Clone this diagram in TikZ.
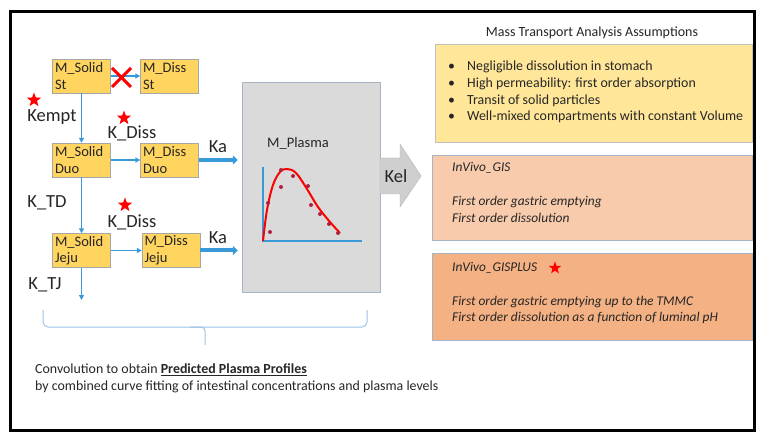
\documentclass[tikz,border=0pt]{standalone}
\usepackage{fontspec}
\setmainfont{Carlito}
\usetikzlibrary{shapes.geometric,arrows.meta}
\definecolor{boxyel}{HTML}{FFD45F}
\definecolor{boxline}{HTML}{A6A6A6}
\definecolor{flowblue}{HTML}{3A9AD9}
\definecolor{assumyel}{HTML}{FFE699}
\definecolor{peachA}{HTML}{F8CBAD}
\definecolor{peachB}{HTML}{F4B183}
\definecolor{panelline}{HTML}{A7B4C6}
\definecolor{plasmagray}{HTML}{DADADA}
\definecolor{kelgray}{HTML}{CFCFCF}
\definecolor{bracecol}{HTML}{9DC3E6}
\definecolor{dotred}{HTML}{B02040}
\definecolor{txt}{HTML}{262626}
\begin{document}
\begin{tikzpicture}[x=1pt,y=-1pt,
  comp/.style={draw=boxline, fill=boxyel, minimum width=58pt, minimum height=34pt,
    text width=53pt, inner xsep=2.5pt, inner ysep=0.5pt, align=left, text=txt,
    font=\fontsize{14.5}{16.5}\selectfont},
  flow/.style={draw=flowblue, line width=1.2pt, -{Triangle[length=5pt,width=5pt]}},
  kaflow/.style={draw=flowblue, line width=4pt, -{Triangle[length=5pt,width=9pt]}},
  ratelbl/.style={font=\fontsize{18.5}{21}\selectfont, text=txt, inner sep=0pt},
  redstar/.style={star, star points=5, star point ratio=2.4, fill=red, draw=none,
    minimum size=15pt, inner sep=0pt},
  bigstar/.style={redstar, minimum size=13pt},
  bodytext/.style={font=\fontsize{13.9}{16}\selectfont, text=txt, inner sep=0pt, anchor=west},
  itext/.style={font=\fontsize{13.4}{15}\selectfont\itshape, text=txt, inner sep=0pt, anchor=west},
  datadot/.style={circle, fill=dotred, inner sep=0pt, minimum size=4pt}
]
\useasboundingbox (0,0) rectangle (764,441);
\fill[white] (0,0) rectangle (764,441);
% outer frame
\draw[line width=3pt, black] (10.5,11.5) rectangle (754,430);

% compartments
\node[comp] (sst)   at (81.5,76)    {M\_Solid\\St};
\node[comp] (dst)   at (169.5,76)   {M\_Diss\\St};
\node[comp] (sduo)  at (81.5,160)   {M\_Solid\\Duo};
\node[comp] (dduo)  at (169.5,160)  {M\_Diss\\Duo};
\node[comp] (sjeju) at (81.5,250.5) {M\_Solid\\Jeju};
\node[comp] (djeju) at (171,250.5)  {M\_Diss\\Jeju};

% plasma panel
\node[draw=panelline, fill=plasmagray, minimum width=138pt, minimum height=210pt, inner sep=0pt]
  (plasma) at (311,187) {};
\node[font=\fontsize{14.5}{16}\selectfont, text=txt, inner sep=0pt] (mplasma) at (298,143) {M\_Plasma};

% flows
\draw[flow] (sst.east) -- (dst.west);
\draw[flow] (sduo.east) -- (dduo.west);
\draw[flow] (sjeju.east) -- (djeju.west |- sjeju.east);
\draw[flow] (sst.south) -- (sduo.north);
\draw[flow] (sduo.south) -- (sjeju.north);
\coordinate (jejuout) at (81.5,300);
\draw[flow] (sjeju.south) -- (jejuout);
\draw[kaflow, shorten >=4pt] (dduo.east) -- (plasma.west |- dduo.east);
\draw[kaflow, shorten >=4pt] (djeju.east) -- (plasma.west |- djeju.east);

% red cross over blocked dissolution in stomach
\coordinate (xa) at (112,68);
\coordinate (xb) at (131,87);
\coordinate (xc) at (112,87);
\coordinate (xd) at (131,68);
\draw[red, line width=3pt] (xa) -- (xb) (xc) -- (xd);

% rate labels
\node[ratelbl] (kempt) at (52,117) {Kempt};
\node[ratelbl] (kdiss1) at (132,133) {K\_Diss};
\node[ratelbl] (ktd) at (47,203) {K\_TD};
\node[ratelbl] (kdiss2) at (132,222) {K\_Diss};
\node[ratelbl] (ktj) at (45,285) {K\_TJ};
\node[ratelbl] (ka1) at (218,147) {Ka};
\node[ratelbl] (ka2) at (218,238) {Ka};

% stars
\node[redstar] (star1) at (34,100) {};
\node[redstar] (star2) at (124,118) {};
\node[redstar] (star3) at (125,205) {};

% plot inside plasma panel
\coordinate (ax0) at (263,241);
\coordinate (axy) at (263,167);
\coordinate (axx) at (362,241);
\draw[flowblue, line width=1.3pt] (axy) -- (ax0) -- (axx);
\draw[red, line width=2pt] plot[smooth, tension=0.6] coordinates
  {(263,241) (267,210) (273,185) (280,172) (287,169) (296,173) (307,189) (318,207) (330,222) (340,233)};
\foreach \i/\p in {1/{(270,232)},2/{(268,203)},3/{(281,187)},4/{(281,170)},5/{(293,176)},
  6/{(308,186)},7/{(311,205)},8/{(320,214)},9/{(329,224)},10/{(338,233)}}
  \node[datadot] (dot\i) at \p {};

% Kel arrow
\fill[kelgray, draw=panelline]
  (380,158) -- (400,158) -- (400,144) -- (421,176) -- (400,207) -- (400,194) -- (380,194) -- cycle;
\node[ratelbl] (kel) at (396,176) {Kel};

% brace
\coordinate (brL) at (43,310);
\coordinate (brR) at (367,310);
\coordinate (brTip) at (205,345);
\draw[bracecol, line width=1pt, rounded corners=5pt]
  (brL) -- (43,327) -- (367,327) -- (brR);
\draw[bracecol, line width=1pt, rounded corners=4pt] (190,327) -- (205,327) -- (brTip);

% bottom text
\node[bodytext] (conv1) at (35,370) {Convolution to obtain \textbf{\underline{Predicted Plasma Profiles}}};
\node[bodytext] (conv2) at (35,387) {by combined curve fitting of intestinal concentrations and plasma levels};

% assumptions
\node[font=\fontsize{14}{16}\selectfont, text=txt, inner sep=0pt] (atitle) at (592,33) {Mass Transport Analysis Assumptions};
\node[draw=boxline!70, fill=assumyel, minimum width=317pt, minimum height=98pt, inner sep=0pt]
  (assum) at (593.5,93) {};
\foreach \i/\t/\y in {1/{Negligible dissolution in stomach}/67,
                      2/{High permeability: first order absorption}/84,
                      3/{Transit of solid particles}/101,
                      4/{Well-mixed compartments with constant Volume}/117}{
  \node[bodytext] (bul\i) at (448,\y) {•};
  \node[bodytext] (as\i) at (467,\y) {\t};
}

% model boxes
\node[draw=panelline, fill=peachA, minimum width=320pt, minimum height=85pt, inner sep=0pt]
  (gis) at (592,197.5) {};
\node[itext] (gist) at (452,168) {InVivo\_GIS};
\node[itext] (gis1) at (452,202) {First order gastric emptying};
\node[itext] (gis2) at (452,218) {First order dissolution};

\node[draw=panelline, fill=peachB, minimum width=320pt, minimum height=87pt, inner sep=0pt]
  (gisp) at (592,296.5) {};
\node[itext] (gispt) at (452,268) {InVivo\_GISPLUS};
\node[bigstar] (star4) at (555,268) {};
\node[itext] (gisp1) at (452,302) {First order gastric emptying up to the TMMC};
\node[itext] (gisp2) at (452,318) {First order dissolution as a function of luminal pH};
\end{tikzpicture}
\end{document}
